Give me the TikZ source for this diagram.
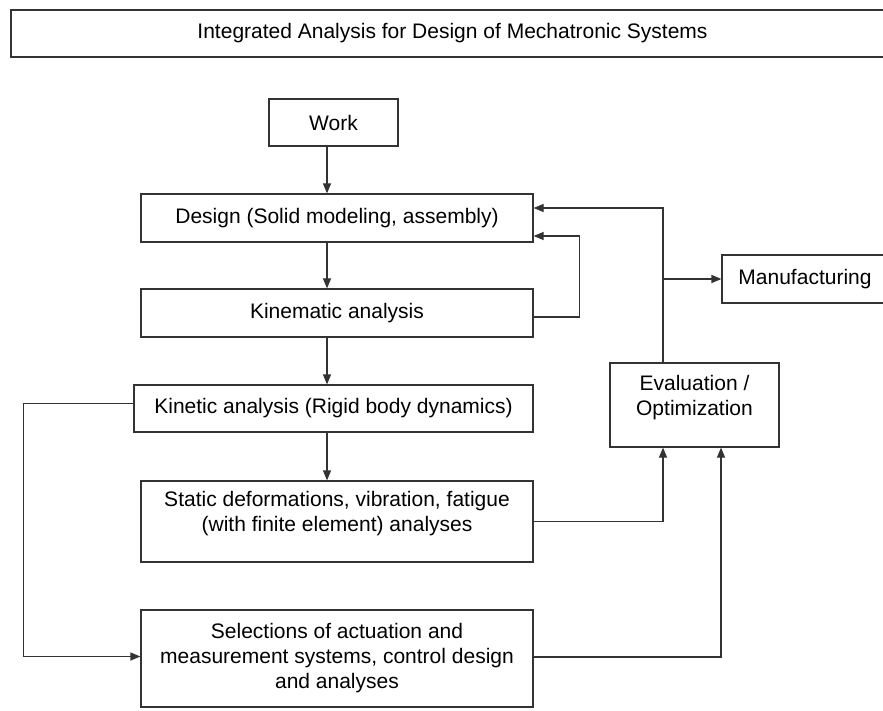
\documentclass[tikz,border=0pt]{standalone}
\usepackage{fontspec}
\setmainfont{Liberation Sans}
\usetikzlibrary{arrows.meta}

\tikzset{
  block/.style={draw=black!80, line width=1.2pt, inner sep=0pt, align=center,
    font=\fontsize{21}{25}\selectfont},
  wire/.style={draw=black!80, line width=1.2pt},
}

\begin{document}
\begin{tikzpicture}[x=1pt,y=-1pt,>={Triangle[length=10pt,width=8pt]}]
        \useasboundingbox (0,0) rectangle (883,711);
        \clip (0,0) rectangle (883,711);
        \node[block,minimum width=883pt,minimum height=47pt] (title) at (452.5,33.5) {Integrated Analysis for Design of Mechatronic Systems};
        \node[block,minimum width=129pt,minimum height=47pt] (work) at (333.5,122.5) {Work};
        \node[block,minimum width=392pt,minimum height=48pt] (design) at (337,218) {Design (Solid modeling, assembly)};
        \node[block,minimum width=392pt,minimum height=48pt] (kinem) at (337,313) {Kinematic analysis};
        \node[block,minimum width=399pt,minimum height=47pt] (kinet) at (333.5,408.5) {Kinetic analysis (Rigid body dynamics)};
        \node[block,minimum width=392pt,minimum height=81pt,text depth=20pt] (static) at (337,521.5) {Static deformations, vibration, fatigue\\(with finite element) analyses};
        \node[block,minimum width=392pt,minimum height=97pt] (select) at (337,658.5) {Selections of actuation and\\measurement systems, control design\\and analyses};
        \node[block,minimum width=169pt,minimum height=84pt,text depth=20pt] (eval) at (694.5,405) {Evaluation /\\Optimization};
        \node[block,minimum width=166pt,minimum height=48pt] (manuf) at (805,279) {Manufacturing};
        \coordinate (spine) at (327,0);
        \coordinate (evalL) at (663,0);
        \coordinate (evalR) at (721,0);
        \draw[wire,->] (spine |- work.south) -- (spine |- design.north);
        \draw[wire,->] (spine |- design.south) -- (spine |- kinem.north);
        \draw[wire,->] (spine |- kinem.south) -- (spine |- kinet.north);
        \draw[wire,->] (spine |- kinet.south) -- (spine |- static.north);
        \draw[wire,->] ([yshift=-4pt]kinem.east) -- ++(46,0) |- ([yshift=-18pt]design.east);
        \draw[wire,->] (evalL |- eval.north) |- ([yshift=10pt]design.east);
        \draw[wire,->] (evalL |- manuf.west) -- (manuf.west);
        \draw[wire,->] (static.east) -| (evalL |- eval.south);
        \draw[wire,->] ([yshift=1.5pt]select.east) -| (evalR |- eval.south);
        \draw[wire,->] ([yshift=5pt]kinet.west) -- ++(-110,0) |- ([yshift=2pt]select.west);
      \end{tikzpicture}
\end{document}
